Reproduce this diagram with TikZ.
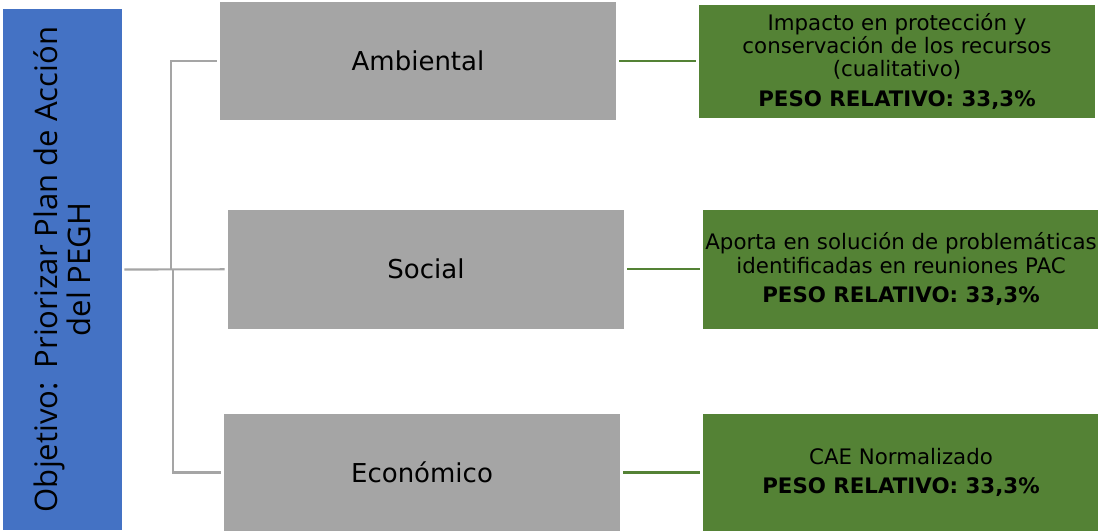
\documentclass[tikz,border=0pt]{standalone}
\usepackage{fontspec}
\setmainfont{DejaVu Sans}
\newfontfamily\objfont{Open Sans}
\definecolor{azul}{HTML}{4472C4}
\definecolor{gris}{HTML}{A5A5A5}
\definecolor{verde}{HTML}{548235}

\begin{document}
\begin{tikzpicture}[x=0.75pt,y=-0.75pt,
    objetivo/.style={fill=azul,inner sep=0pt,minimum width=89.25pt,minimum height=390.75pt},
    criterio/.style={fill=gris,inner sep=0pt,minimum width=297pt,minimum height=88.5pt,
        font=\fontsize{19.5}{23}\selectfont},
    indicador/.style={fill=verde,inner sep=0pt,minimum width=297pt,minimum height=88.5pt,
        align=center,font=\fontsize{16}{17.5}\selectfont},
    rama/.style={draw=gris,line width=1.6pt},
    enlace/.style={draw=verde,line width=1.6pt,shorten <=2.25pt,shorten >=2.25pt}]
    % Marco del dibujo
    \clip (0,0) rectangle (1098,531);
    \def\sep{4.6pt}

    % Objetivo (caja azul)
    \node[objetivo] (obj) at (62.5,269.5) {};
    \node[rotate=90,align=center,font=\objfont\fontsize{23.3}{25}\selectfont] (objtxt) at (obj.center)
        {Objetivo:\hspace{0.45em}Priorizar Plan de Acción\\del PEGH};

    % Criterios (cajas grises)
    \node[criterio] (amb) at (418,61) {Ambiental};
    \node[criterio,minimum height=88.9pt] (soc) at (426,269.3) {Social};
    \node[criterio,minimum height=87.75pt] (eco) at (422,472.5) {Económico};

    % Indicadores (cajas verdes)
    \node[indicador,minimum height=84.4pt] (ind1) at (897,61.3)
        {Impacto en protección y\\conservación de los recursos\\(cualitativo)\\[\sep]\textbf{PESO RELATIVO: 33,3\%}};
    \node[indicador,minimum height=88.9pt] (ind2) at (901,269.3)
        {Aporta en solución de problemáticas\\identificadas en reuniones PAC\\[\sep]\textbf{PESO RELATIVO: 33,3\%}};
    \node[indicador,minimum height=87.75pt] (ind3) at (901,472.5)
        {CAE Normalizado\\[\sep]\textbf{PESO RELATIVO: 33,3\%}};

    % Ramas grises
    \coordinate (nudoA) at (170.7,269.3);
    \coordinate (nudoB) at (172.7,269.3);
    \draw[rama,shorten <=1.5pt,shorten >=2.25pt] (obj.east) -- (soc.west);
    \draw[rama,shorten <=2.25pt] (amb.west) -| (nudoA);
    \draw[rama,shorten <=2.25pt] (eco.west) -| (nudoB);

    % Enlaces verdes
    \draw[enlace] (amb.east) -- (amb.east -| ind1.west);
    \draw[enlace] (soc.east) -- (soc.east -| ind2.west);
    \draw[enlace] (eco.east) -- (eco.east -| ind3.west);
\end{tikzpicture}
\end{document}
